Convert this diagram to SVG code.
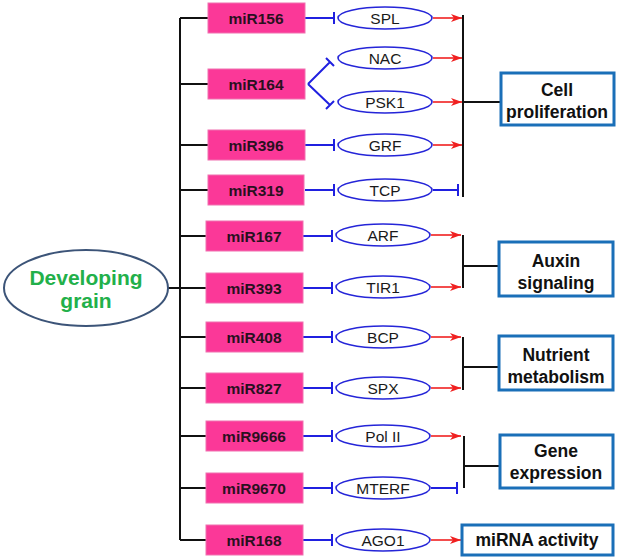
<svg xmlns="http://www.w3.org/2000/svg" width="619" height="559" viewBox="0 0 619 559">
<style>
.mir rect{fill:#fb3898;stroke:#f070b0;stroke-width:1}
.mir text{font-family:"Liberation Sans",Arial,sans-serif;font-weight:bold;font-size:15.5px;fill:#2a1020;text-anchor:middle;dominant-baseline:central}
.gene ellipse{fill:#fff;stroke:#2525d8;stroke-width:1.6}
.gene text{font-family:"Liberation Sans",Arial,sans-serif;font-size:15.5px;fill:#1a1a1a;text-anchor:middle;dominant-baseline:central}
.fn rect{fill:#fff;stroke:#1a6fb8;stroke-width:3}
.fn text{font-family:"Liberation Sans",Arial,sans-serif;font-weight:bold;font-size:17.5px;fill:#111;text-anchor:middle;dominant-baseline:central}
.blk{stroke:#111;stroke-width:2;fill:none}
.blu{stroke:#2020e0;stroke-width:2;fill:none}
.red{stroke:#f02020;stroke-width:1.6;fill:none}
</style>
<defs>
<marker id="ah" markerWidth="12" markerHeight="10" refX="11" refY="5" orient="auto" markerUnits="userSpaceOnUse">
<path d="M0,1 L11,5 L0,9 L3,5 Z" fill="#f02020"/>
</marker>
</defs>

<g id="connectors">
<line class="blk" x1="168" y1="288" x2="180" y2="288"/>
<line class="blk" x1="180" y1="18" x2="180" y2="540"/>
<line class="blk" x1="180" y1="18" x2="208" y2="18"/>
<line class="blk" x1="180" y1="84" x2="208" y2="84"/>
<line class="blk" x1="180" y1="145" x2="208" y2="145"/>
<line class="blk" x1="180" y1="190" x2="208" y2="190"/>
<line class="blk" x1="180" y1="236" x2="206" y2="236"/>
<line class="blk" x1="180" y1="288" x2="206" y2="288"/>
<line class="blk" x1="180" y1="337" x2="206" y2="337"/>
<line class="blk" x1="180" y1="388" x2="206" y2="388"/>
<line class="blk" x1="180" y1="436" x2="206" y2="436"/>
<line class="blk" x1="180" y1="488" x2="206" y2="488"/>
<line class="blk" x1="180" y1="540" x2="206" y2="540"/>
<path class="blu" d="M305,18 H334 M334,12 V24"/>
<path class="blu" d="M308,84 L330,62 M326,58 L334,66"/>
<path class="blu" d="M308,84 L330,105 M326,109 L334,101"/>
<path class="blu" d="M305,145 H334 M334,139 V151"/>
<path class="blu" d="M305,190 H334 M334,184 V196"/>
<path class="blu" d="M303,236 H332 M332,230 V242"/>
<path class="blu" d="M303,288 H332 M332,282 V294"/>
<path class="blu" d="M303,337 H332 M332,331 V343"/>
<path class="blu" d="M303,388 H332 M332,382 V394"/>
<path class="blu" d="M303,436 H332 M332,430 V442"/>
<path class="blu" d="M303,488 H332 M332,482 V494"/>
<path class="blu" d="M303,540 H332 M332,534 V546"/>
<line class="red" x1="433" y1="18" x2="462" y2="18" marker-end="url(#ah)"/>
<line class="red" x1="433" y1="58" x2="462" y2="58" marker-end="url(#ah)"/>
<line class="red" x1="433" y1="102" x2="462" y2="102" marker-end="url(#ah)"/>
<line class="red" x1="433" y1="145" x2="462" y2="145" marker-end="url(#ah)"/>
<path class="blu" d="M433,190 H458 M458,184 V196"/>
<line class="blk" x1="463" y1="15" x2="463" y2="197"/>
<line class="blk" x1="463" y1="102" x2="501" y2="102"/>
<line class="red" x1="431" y1="235" x2="461" y2="235" marker-end="url(#ah)"/>
<line class="red" x1="431" y1="287" x2="461" y2="287" marker-end="url(#ah)"/>
<line class="blk" x1="463" y1="235" x2="463" y2="288"/>
<line class="blk" x1="463" y1="266" x2="499" y2="266"/>
<line class="red" x1="431" y1="337" x2="461" y2="337" marker-end="url(#ah)"/>
<line class="red" x1="431" y1="388" x2="461" y2="388" marker-end="url(#ah)"/>
<line class="blk" x1="463" y1="337" x2="463" y2="390"/>
<line class="blk" x1="463" y1="367" x2="499" y2="367"/>
<line class="red" x1="431" y1="436" x2="461" y2="436" marker-end="url(#ah)"/>
<path class="blu" d="M431,488 H457 M457,482 V494"/>
<line class="blk" x1="464" y1="436" x2="464" y2="488"/>
<line class="blk" x1="464" y1="466" x2="500" y2="466"/>
<line class="red" x1="431" y1="540" x2="461" y2="540" marker-end="url(#ah)"/>
</g>

<g id="root">
<ellipse cx="86" cy="288" rx="82" ry="38" fill="#fff" stroke="#3c5478" stroke-width="2"/>
<text x="86" y="277" font-family="'Liberation Sans',Arial,sans-serif" font-weight="bold" font-size="21px" fill="#22b04a" text-anchor="middle" dominant-baseline="central">Developing</text>
<text x="86" y="300" font-family="'Liberation Sans',Arial,sans-serif" font-weight="bold" font-size="21px" fill="#22b04a" text-anchor="middle" dominant-baseline="central">grain</text>
</g>

<g id="miR156" class="mir"><rect x="208" y="3" width="97" height="30"/><text x="256" y="18">miR156</text></g>
<g id="miR164" class="mir"><rect x="208" y="69" width="97" height="30"/><text x="256" y="84">miR164</text></g>
<g id="miR396" class="mir"><rect x="208" y="130" width="97" height="30"/><text x="256" y="145">miR396</text></g>
<g id="miR319" class="mir"><rect x="208" y="175" width="96" height="30"/><text x="256" y="190">miR319</text></g>
<g id="miR167" class="mir"><rect x="206" y="221" width="97" height="30"/><text x="254" y="236">miR167</text></g>
<g id="miR393" class="mir"><rect x="206" y="273" width="97" height="30"/><text x="254" y="288">miR393</text></g>
<g id="miR408" class="mir"><rect x="206" y="322" width="97" height="30"/><text x="254" y="337">miR408</text></g>
<g id="miR827" class="mir"><rect x="206" y="373" width="97" height="30"/><text x="254" y="388">miR827</text></g>
<g id="miR9666" class="mir"><rect x="206" y="421" width="97" height="30"/><text x="254" y="436">miR9666</text></g>
<g id="miR9670" class="mir"><rect x="206" y="473" width="97" height="30"/><text x="254" y="488">miR9670</text></g>
<g id="miR168" class="mir"><rect x="206" y="525" width="97" height="30"/><text x="254" y="540">miR168</text></g>

<g id="SPL" class="gene"><ellipse cx="385" cy="18" rx="47" ry="11"/><text x="385" y="18">SPL</text></g>
<g id="NAC" class="gene"><ellipse cx="385" cy="58" rx="47" ry="11"/><text x="385" y="58">NAC</text></g>
<g id="PSK1" class="gene"><ellipse cx="385" cy="102" rx="47" ry="11"/><text x="385" y="102">PSK1</text></g>
<g id="GRF" class="gene"><ellipse cx="385" cy="145" rx="47" ry="11"/><text x="385" y="145">GRF</text></g>
<g id="TCP" class="gene"><ellipse cx="385" cy="190" rx="47" ry="11"/><text x="385" y="190">TCP</text></g>
<g id="ARF" class="gene"><ellipse cx="383" cy="235" rx="47" ry="11"/><text x="383" y="235">ARF</text></g>
<g id="TIR1" class="gene"><ellipse cx="383" cy="287" rx="47" ry="11"/><text x="383" y="287">TIR1</text></g>
<g id="BCP" class="gene"><ellipse cx="383" cy="337" rx="47" ry="11"/><text x="383" y="337">BCP</text></g>
<g id="SPX" class="gene"><ellipse cx="383" cy="388" rx="47" ry="11"/><text x="383" y="388">SPX</text></g>
<g id="PolII" class="gene"><ellipse cx="383" cy="436" rx="47" ry="11"/><text x="383" y="436">Pol II</text></g>
<g id="MTERF" class="gene"><ellipse cx="383" cy="488" rx="47" ry="11"/><text x="383" y="488">MTERF</text></g>
<g id="AGO1" class="gene"><ellipse cx="383" cy="540" rx="47" ry="11"/><text x="383" y="540">AGO1</text></g>

<g id="cell-proliferation" class="fn"><rect x="501" y="73" width="113" height="52"/><text x="557" y="90">Cell</text><text x="557" y="112">proliferation</text></g>
<g id="auxin-signaling" class="fn"><rect x="499" y="242" width="114" height="54"/><text x="556" y="261">Auxin</text><text x="556" y="283">signaling</text></g>
<g id="nutrient-metabolism" class="fn"><rect x="499" y="336" width="114" height="54"/><text x="556" y="355">Nutrient</text><text x="556" y="377">metabolism</text></g>
<g id="gene-expression" class="fn"><rect x="500" y="435" width="113" height="53"/><text x="556" y="451">Gene</text><text x="556" y="473">expression</text></g>
<g id="miRNA-activity" class="fn"><rect x="462" y="525" width="151" height="30"/><text x="537" y="540">miRNA activity</text></g>
</svg>
